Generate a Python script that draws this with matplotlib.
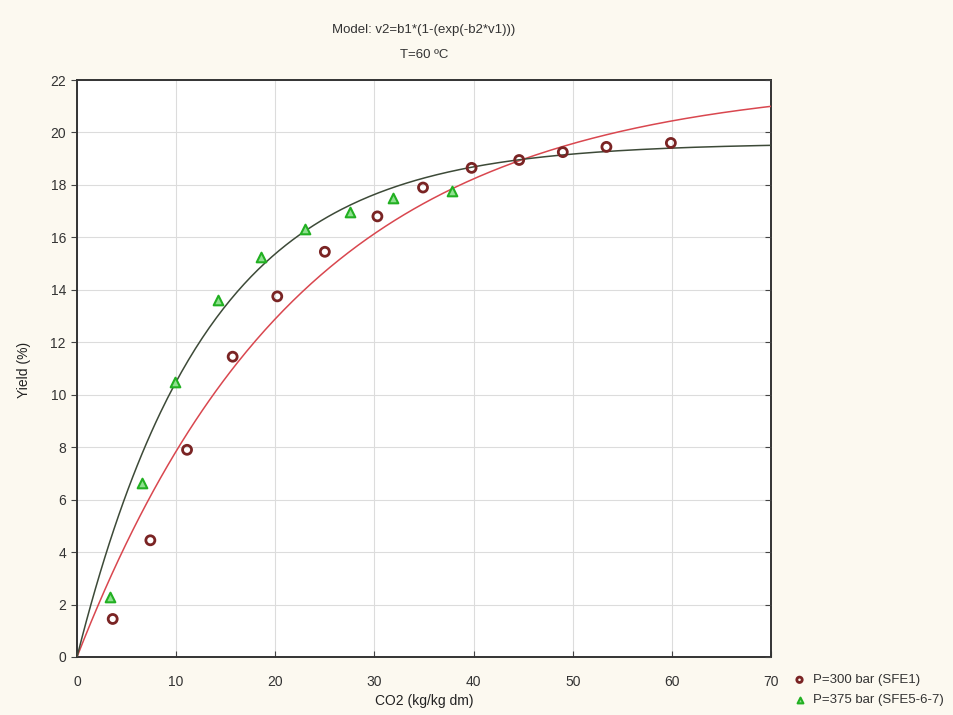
import numpy as np
import matplotlib
matplotlib.use("Agg")
import matplotlib.pyplot as plt

plt.rcParams['font.family'] = ['Liberation Sans', 'DejaVu Sans']

# Measured extraction yield vs. CO2 consumption
co2_300 = [3.6, 7.4, 11.1, 15.7, 20.2, 25.0, 30.3, 34.9, 39.8, 44.6, 49.0, 53.4, 59.9]
yield_300 = [1.45, 4.45, 7.9, 11.45, 13.75, 15.45, 16.8, 17.9, 18.65, 18.95, 19.25, 19.45, 19.6]

co2_375 = [3.3, 6.6, 9.9, 14.2, 18.6, 23.0, 27.5, 31.9, 37.8]
yield_375 = [2.3, 6.65, 10.5, 13.6, 15.25, 16.3, 16.95, 17.5, 17.75]

# Fitted model parameters: v2 = b1*(1-exp(-b2*v1))
b1_300, b2_300 = 22.0, 0.0441
b1_375, b2_375 = 19.6, 0.0767

x_ticks = [0, 10, 20, 30, 40, 50, 60, 70]
y_ticks = [0, 2, 4, 6, 8, 10, 12, 14, 16, 18, 20, 22]

fig = plt.figure(figsize=(9.54, 7.15), dpi=100)
fig.patch.set_facecolor('#fcf9f0')
ax = fig.add_axes([77/954, 1 - 657/715, (771-77)/954, (657-80)/715])
ax.set_facecolor('white')

xs = np.linspace(0, 70, 300)
ax.plot(xs, b1_300 * (1 - np.exp(-b2_300 * xs)), color='#d9474f', lw=1.1, zorder=3)
ax.plot(xs, b1_375 * (1 - np.exp(-b2_375 * xs)), color='#3d4a38', lw=1.1, zorder=3)

ax.scatter(co2_300, yield_300, s=42, marker='o', facecolors='none',
           edgecolors='#7a2424', linewidths=2.0, zorder=4, label='P=300 bar (SFE1)')
ax.scatter(co2_375, yield_375, s=48, marker='^', facecolors='#8fe08f',
           edgecolors='#22b022', linewidths=1.5, zorder=4, label='P=375 bar (SFE5-6-7)')

ax.set_xlim(0, 70)
ax.set_ylim(0, 22)
ax.set_xticks(x_ticks)
ax.set_yticks(y_ticks)
ax.grid(True, color='#dcdcdc', lw=0.8)
ax.set_axisbelow(True)
for sp in ax.spines.values():
    sp.set_color('#333333')
    sp.set_linewidth(1.4)
ax.tick_params(axis='x', direction='in', length=4, colors='#444444', labelsize=10, pad=13,
               top=False)
ax.tick_params(axis='y', direction='out', length=4, colors='#444444', labelsize=10, pad=4,
               right=False)
for lab in ax.get_xticklabels() + ax.get_yticklabels():
    lab.set_color('#333333')

# inward ticks on the right spine
axr = ax.twinx()
axr.set_ylim(0, 22)
axr.set_yticks(y_ticks)
axr.tick_params(axis='y', direction='in', length=4, colors='#444444', labelright=False)
for sp in axr.spines.values():
    sp.set_visible(False)

ax.set_xlabel('CO2 (kg/kg dm)', fontsize=10, color='#222222')
ax.xaxis.set_label_coords((424 - 77) / 694, -(694 - 657) / 577)
ax.set_ylabel('Yield (%)', fontsize=10, color='#222222')
ax.yaxis.set_label_coords((31 - 77) / 694, (657 - 370) / 577)

fig.text((424) / 954, 1 - 30/715, 'Model: v2=b1*(1-(exp(-b2*v1)))',
         ha='center', va='center', fontsize=9.5, color='#333333')
fig.text((424) / 954, 1 - 55/715, 'T=60 ºC',
         ha='center', va='center', fontsize=9.5, color='#333333')

leg = fig.legend(loc='lower left', bbox_to_anchor=(785/954, 1 - 713/715),
                 frameon=False, fontsize=9.5, handletextpad=0.4, labelspacing=0.6,
                 markerscale=0.6, borderpad=0, handlelength=1.2)
for t in leg.get_texts():
    t.set_color('#333333')

fig.savefig('out.png', dpi=100, facecolor=fig.get_facecolor())
